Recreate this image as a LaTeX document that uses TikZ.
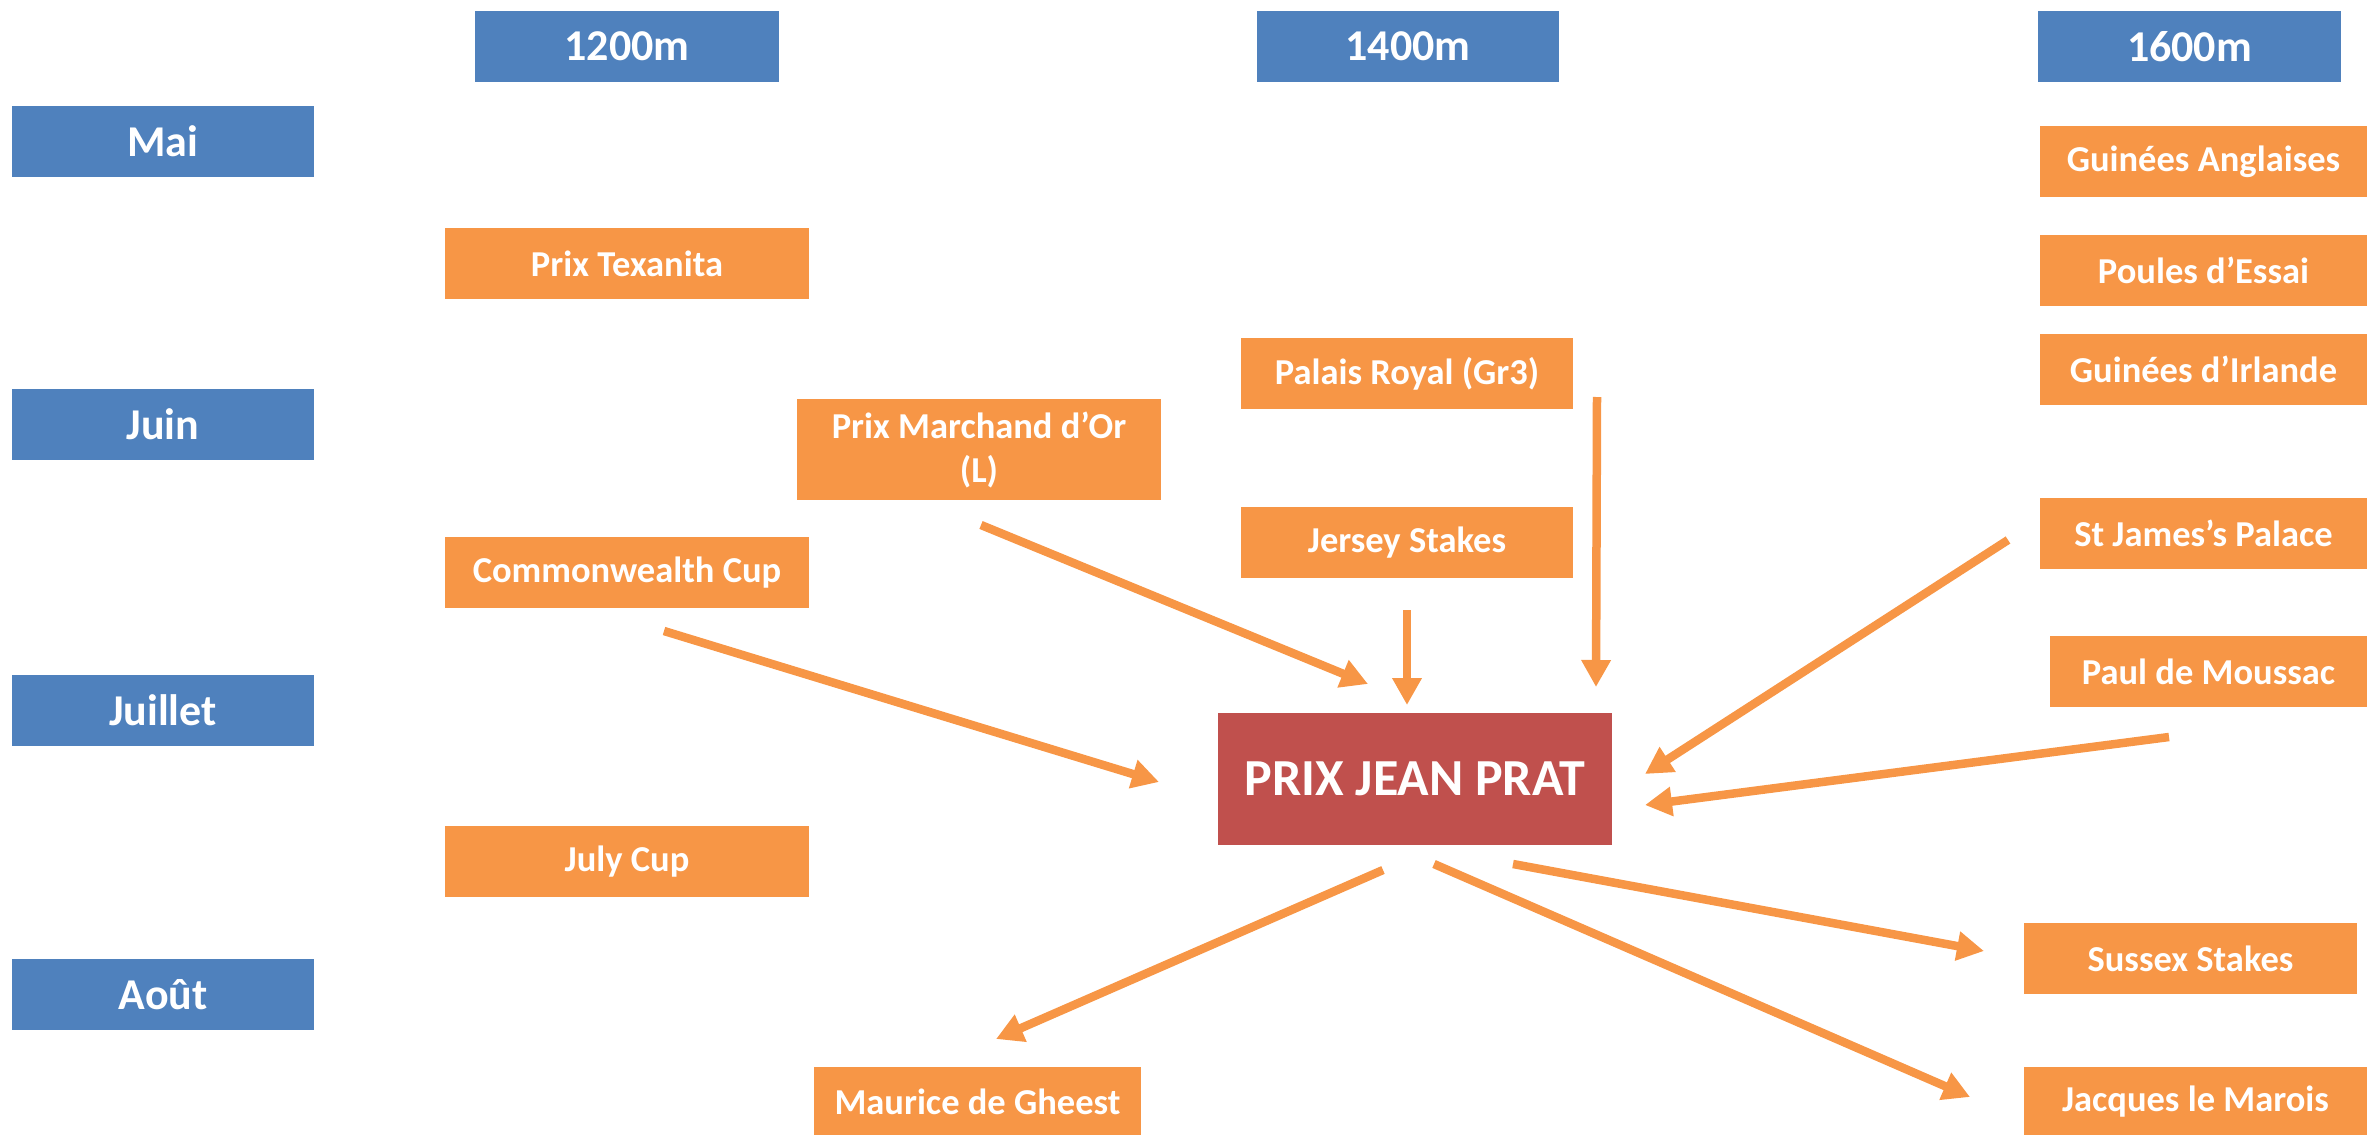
\documentclass[tikz,border=0pt]{standalone}
\usepackage{fontspec}
\setmainfont{Carlito}
\usetikzlibrary{arrows.meta}
\definecolor{hblue}{HTML}{4F81BD}
\definecolor{rorange}{HTML}{F79646}
\definecolor{cred}{HTML}{C0504D}
\begin{document}
\begin{tikzpicture}[x=1pt,y=-1pt,
  base/.style={rectangle,inner sep=0pt,text=white,font=\bfseries,align=center},
  hdr/.style={base,fill=hblue,minimum height=71pt,minimum width=302pt,font=\fontsize{44}{50}\selectfont\bfseries},
  race/.style={base,fill=rorange,minimum height=71pt,font=\fontsize{36.5}{44}\selectfont\bfseries},
  main/.style={base,fill=cred,minimum width=394pt,minimum height=132pt,font=\fontsize{52}{60}\selectfont\bfseries},
  arr/.style={draw=rorange,line width=8.5pt,-{Triangle[length=27pt,width=28pt]}}]
\useasboundingbox (0,0) rectangle (2367,1135);
% headers
\node[hdr,minimum width=304pt] (h1200) at (627,46.5) {1200m};
\node[hdr] (h1400) at (1408,46.5) {1400m};
\node[hdr,minimum width=303pt] (h1600) at (2189.5,46.5) {1600m};
\node[hdr] (mai) at (163,141.5) {Mai};
\node[hdr] (juin) at (163,424.5) {Juin};
\node[hdr] (juillet) at (163,710.5) {Juillet};
\node[hdr] (aout) at (163,994.5) {Août};
% races
\node[race,minimum width=364pt] (texanita) at (627,263.5) {Prix Texanita};
\node[race,minimum width=364pt] (commonwealth) at (627,572.5) {Commonwealth Cup};
\node[race,minimum width=364pt] (julycup) at (627,861.5) {July Cup};
\node[race,minimum width=364pt,minimum height=101pt] (marchand) at (979,449.5) {Prix Marchand d’Or\\(L)};
\node[race,minimum width=332pt] (palais) at (1407,373.5) {Palais Royal (Gr3)};
\node[race,minimum width=332pt] (jersey) at (1407,542.5) {Jersey Stakes};
\node[race,minimum width=327pt] (anglaises) at (2203.5,161.5) {Guinées Anglaises};
\node[race,minimum width=327pt] (poules) at (2203.5,270.5) {Poules d’Essai};
\node[race,minimum width=327pt] (irlande) at (2203.5,369.5) {Guinées d’Irlande};
\node[race,minimum width=327pt] (stjames) at (2203.5,533.5) {St James’s Palace};
\node[race,minimum width=317pt] (moussac) at (2208.5,671.5) {Paul de Moussac};
\node[race,minimum width=333pt] (sussex) at (2190.5,958.5) {Sussex Stakes};
\node[race,minimum width=327pt] (gheest) at (977.5,1102) {Maurice de Gheest};
\node[race,minimum width=343pt] (marois) at (2195.5,1102) {Jacques le Marois};
% centre
\node[main] (jp) at (1415,779) {PRIX JEAN PRAT};
% arrow ends
\coordinate (mS) at (981,525);   \coordinate (mE) at (1368,684);
\coordinate (jS) at (1407,610);  \coordinate (jE) at (1407,705);
\coordinate (pS) at (1597,397);  \coordinate (pE) at (1596,687);
\coordinate (cS) at (664,631);   \coordinate (cE) at (1159,782);
\coordinate (sS) at (2008,540);  \coordinate (sE) at (1645,774);
\coordinate (dS) at (2169,737);  \coordinate (dE) at (1645,805);
\coordinate (gS) at (1383,870);  \coordinate (gE) at (996,1039);
\coordinate (lS) at (1434,864);  \coordinate (lE) at (1970,1097);
\coordinate (xS) at (1513,864);  \coordinate (xE) at (1984,951);
\draw[arr] (mS) -- (mE);
\draw[arr] (jS) -- (jE);
\draw[arr] (pS) -- (pE);
\draw[arr] (cS) -- (cE);
\draw[arr] (sS) -- (sE);
\draw[arr] (dS) -- (dE);
\draw[arr] (gS) -- (gE);
\draw[arr] (lS) -- (lE);
\draw[arr] (xS) -- (xE);
\end{tikzpicture}
\end{document}
